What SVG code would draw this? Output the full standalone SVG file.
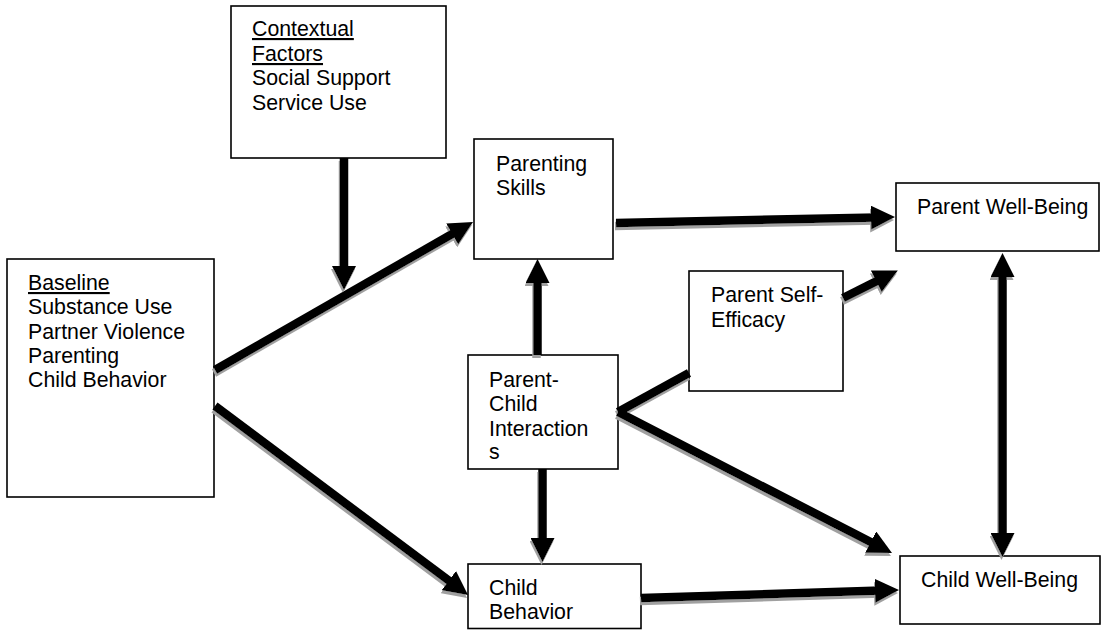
<svg xmlns="http://www.w3.org/2000/svg" width="1104" height="630" viewBox="0 0 1104 630">
  <style>
    .box { fill: #ffffff; stroke: #000000; stroke-width: 1.6; }
    .lbl { font-family: "Liberation Sans", Arial, sans-serif; font-size: 21.3px; fill: #000000; }
    .ul { text-decoration: underline; }
    .conn { fill: none; stroke: #000000; stroke-width: 8.5; stroke-linecap: butt; }
    .arrow { marker-end: url(#head); }
    .both { marker-start: url(#head); marker-end: url(#head); }
  </style>
  <defs>
    <!-- solid triangular arrowhead; the line stops inside it so its tip stays sharp -->
    <marker id="head" markerUnits="userSpaceOnUse" viewBox="0 0 24 24" markerWidth="24" markerHeight="24" refX="6" refY="12" orient="auto-start-reverse">
      <path d="M0,0 L24,12 L0,24 z" fill="#000000"/>
    </marker>
    <!-- grey offset drop shadow under the connectors -->
    <filter id="shadow" filterUnits="userSpaceOnUse" x="0" y="0" width="1104" height="630">
      <feOffset in="SourceAlpha" dx="-1" dy="3" result="off"/>
      <feFlood flood-color="#a0a0a0" result="grey"/>
      <feComposite in="grey" in2="off" operator="in" result="sh"/>
      <feMerge>
        <feMergeNode in="sh"/>
        <feMergeNode in="SourceGraphic"/>
      </feMerge>
    </filter>
  </defs>

  <rect width="1104" height="630" fill="#ffffff"/>

  <g id="contextual">
    <rect class="box" x="231" y="6" width="215" height="152"/>
    <text class="lbl" x="252" y="36"><tspan class="ul">Contextual</tspan></text>
    <text class="lbl" x="252" y="61"><tspan class="ul">Factors</tspan></text>
    <text class="lbl" x="252" y="85">Social Support</text>
    <text class="lbl" x="252" y="110">Service Use</text>
  </g>

  <g id="baseline">
    <rect class="box" x="7" y="259" width="207" height="238"/>
    <text class="lbl" x="28" y="290"><tspan class="ul">Baseline</tspan></text>
    <text class="lbl" x="28" y="314">Substance Use</text>
    <text class="lbl" x="28" y="338.5">Partner Violence</text>
    <text class="lbl" x="28" y="363">Parenting</text>
    <text class="lbl" x="28" y="387">Child Behavior</text>
  </g>

  <g id="parenting-skills">
    <rect class="box" x="474" y="139" width="139" height="120"/>
    <text class="lbl" x="496" y="171">Parenting</text>
    <text class="lbl" x="496" y="195">Skills</text>
  </g>

  <g id="parent-self-efficacy">
    <rect class="box" x="689" y="271" width="154" height="120"/>
    <text class="lbl" x="711" y="302">Parent Self-</text>
    <text class="lbl" x="711" y="326.5">Efficacy</text>
  </g>

  <g id="parent-child-interactions">
    <rect class="box" x="468" y="355" width="150" height="114"/>
    <text class="lbl" x="489" y="387">Parent-</text>
    <text class="lbl" x="489" y="411">Child</text>
    <text class="lbl" x="489" y="435.5">Interaction</text>
    <text class="lbl" x="489" y="459">s</text>
  </g>

  <g id="child-behavior">
    <rect class="box" x="468" y="564" width="173" height="64.5"/>
    <text class="lbl" x="489" y="595">Child</text>
    <text class="lbl" x="489" y="619">Behavior</text>
  </g>

  <g id="parent-well-being">
    <rect class="box" x="896" y="183" width="203" height="68"/>
    <text class="lbl" x="917" y="214">Parent Well-Being</text>
  </g>

  <g id="child-well-being">
    <rect class="box" x="900" y="556" width="200" height="68"/>
    <text class="lbl" x="921" y="587">Child Well-Being</text>
  </g>

  <g id="connectors" filter="url(#shadow)">
    <!-- contextual factors moderate the baseline -> parenting skills path -->
    <path class="conn arrow" d="M344,158 L344,272"/>
    <path class="conn arrow" d="M215,370 L457.4,231"/>
    <path class="conn arrow" d="M215,406 L453.6,584.2"/>
    <path class="conn arrow" d="M616,223 L877,217.4"/>
    <path class="conn arrow" d="M537.5,355 L537.5,277"/>
    <path class="conn" d="M618,412 L689,373"/>
    <path class="conn arrow" d="M843,298 L881.7,278.6"/>
    <path class="conn arrow" d="M618,412 L876,544.8"/>
    <path class="conn arrow" d="M542.5,469 L542.5,544"/>
    <path class="conn arrow" d="M641,598 L881,590.6"/>
    <path class="conn both" d="M1002.5,271 L1002.5,539"/>
  </g>
</svg>
